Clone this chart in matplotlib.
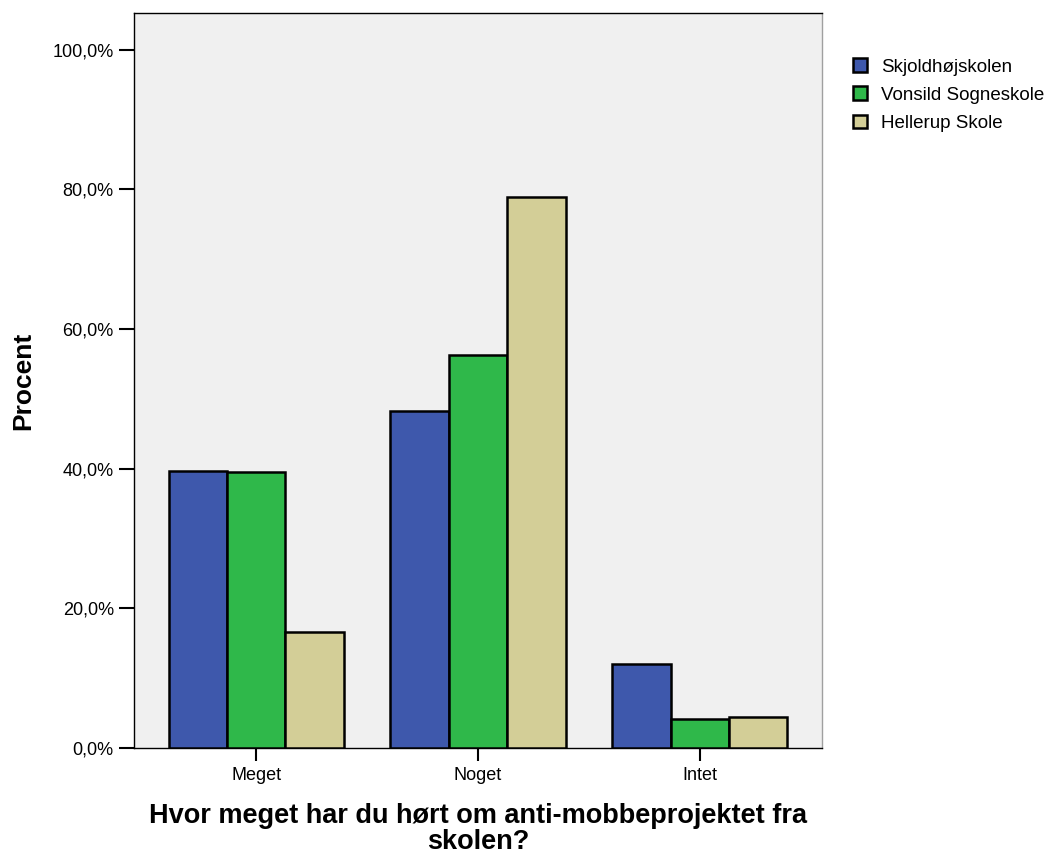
import matplotlib
matplotlib.use("Agg")
import matplotlib.pyplot as plt
import numpy as np
from matplotlib.ticker import FuncFormatter

plt.rcParams['font.family'] = ['Liberation Sans', 'DejaVu Sans']

categories = ["Meget", "Noget", "Intet"]
series_names = ["Skjoldhøjskolen", "Vonsild Sogneskole", "Hellerup Skole"]
skjoldhoj = [39.6, 48.3, 12.0]
vonsild = [39.5, 56.2, 4.1]
hellerup = [16.6, 78.9, 4.4]
colors = ["#3E58AC", "#2FB84A", "#D3CE97"]

W, H = 1049, 856
fig = plt.figure(figsize=(W/100, H/100), dpi=100)
ax = fig.add_axes([134/W, 1-748/H, (822-134)/W, (748-12.5)/H])
ax.set_facecolor("#F0F0F0")

x = np.arange(len(categories))
w = 0.263
for i, (vals, name, c) in enumerate(zip([skjoldhoj, vonsild, hellerup], series_names, colors)):
    ax.bar(x + (i-1)*w, vals, width=w, color=c, edgecolor="black", linewidth=1.8, label=name, zorder=3)

ax.set_xlim(-0.55, 2.55)
ax.set_ylim(0, 105.3)
ax.set_yticks([0, 20, 40, 60, 80, 100])
ax.yaxis.set_major_formatter(FuncFormatter(lambda v, p: f"{v:.1f}%".replace(".", ",")))
ax.set_xticks(x)
ax.set_xticklabels(categories)
ax.tick_params(axis='y', length=10.5, width=1.5, labelsize=13, pad=4)
ax.tick_params(axis='x', length=9, width=1.5, labelsize=13, pad=5)

for s in ["top", "left", "bottom"]:
    ax.spines[s].set_color("black")
    ax.spines[s].set_linewidth(1)
ax.spines["right"].set_color("#A0A0A0")
ax.spines["right"].set_linewidth(1)

fig.text(23/W, 1-380.5/H, "Procent", rotation=90, fontsize=19, fontweight="bold",
         ha="center", va="center")
fig.text(478/W, 1-803/H, "Hvor meget har du hørt om anti-mobbeprojektet fra\nskolen?",
         fontsize=19.5, fontweight="bold", ha="center", va="top", linespacing=1.0)

leg = fig.legend(loc="upper left", bbox_to_anchor=(840/W, 1-45/H), frameon=False,
                 fontsize=13.5, handlelength=0.75, handleheight=0.75, handletextpad=0.75,
                 labelspacing=0.58, borderaxespad=0.3)
for h in leg.legend_handles:
    h.set_linewidth(1.8)

fig.savefig("out.png", dpi=100)
